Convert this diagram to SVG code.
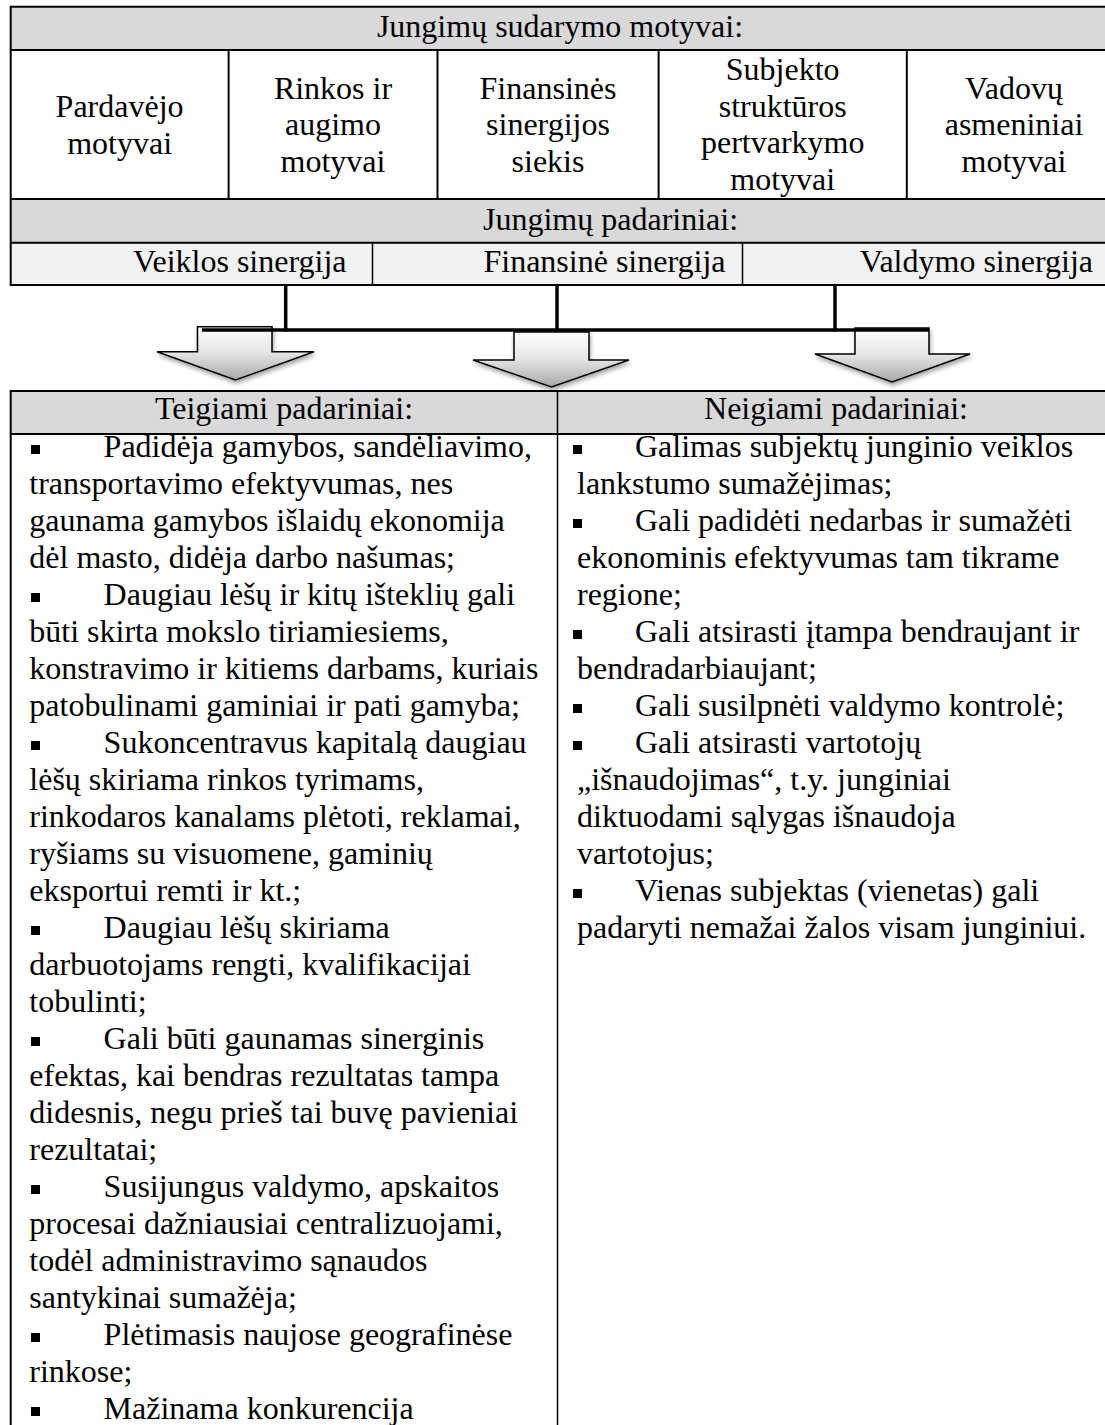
<svg xmlns="http://www.w3.org/2000/svg" width="1105" height="1425" viewBox="0 0 1105 1425">
  <style>
    text { font-family: "Liberation Serif", "Times New Roman", serif; font-size: 32px; fill: #000; }
    .c { text-anchor: middle; }
    .e { text-anchor: end; }
    .hdr { fill: #d9d9d9; }
    .sub { fill: #f2f2f2; }
    .b2 { stroke: #000; stroke-width: 2; fill: none; }
    .b1 { stroke: #000; stroke-width: 1.5; fill: none; }
    .conn { stroke: #000; stroke-width: 3.5; fill: none; }
    .arrow { fill: url(#arrowFill); stroke: #000; stroke-width: 1.5; stroke-linejoin: miter; filter: url(#soft); }
  </style>
  <defs>
    <linearGradient id="arrowFill" x1="0" y1="0" x2="0" y2="1">
      <stop offset="0" stop-color="#ffffff"/>
      <stop offset="0.5" stop-color="#e4e4e4"/>
      <stop offset="1" stop-color="#a8a8a8"/>
    </linearGradient>
    <filter id="soft" x="-20%" y="-20%" width="140%" height="160%">
      <feDropShadow dx="1" dy="3" stdDeviation="2" flood-color="#000" flood-opacity="0.35"/>
    </filter>
    <rect id="bullet" width="9" height="9" fill="#000"/>
  </defs>

  <rect width="1105" height="1425" fill="#fff"/>

  <!-- motives table -->
  <g id="motives-header">
    <rect class="hdr" x="10.7" y="6.7" width="1110" height="43.3"/>
    <text class="c" x="560" y="37">Jungimų sudarymo motyvai:</text>
  </g>
  <g id="motive-seller">
    <text class="c" x="119.6" y="117">Pardavėjo</text>
    <text class="c" x="119.6" y="153.5">motyvai</text>
  </g>
  <g id="motive-market">
    <text class="c" x="333" y="98.5">Rinkos ir</text>
    <text class="c" x="333" y="135">augimo</text>
    <text class="c" x="333" y="171.5">motyvai</text>
  </g>
  <g id="motive-financial">
    <text class="c" x="548" y="98.5">Finansinės</text>
    <text class="c" x="548" y="135">sinergijos</text>
    <text class="c" x="548" y="171.5">siekis</text>
  </g>
  <g id="motive-restructuring">
    <text class="c" x="782.7" y="80">Subjekto</text>
    <text class="c" x="782.7" y="116.5">struktūros</text>
    <text class="c" x="782.7" y="153">pertvarkymo</text>
    <text class="c" x="782.7" y="189.5">motyvai</text>
  </g>
  <g id="motive-managers">
    <text class="c" x="1014" y="98.5">Vadovų</text>
    <text class="c" x="1014" y="135">asmeniniai</text>
    <text class="c" x="1014" y="171.5">motyvai</text>
  </g>

  <!-- consequences rows -->
  <g id="consequences-header">
    <rect class="hdr" x="10.7" y="199" width="1110" height="43.7"/>
    <text x="483" y="230">Jungimų padariniai:</text>
  </g>
  <g id="synergy-operating">
    <rect class="sub" x="10.7" y="242.7" width="361.8" height="42.3"/>
    <text class="e" x="346.5" y="272">Veiklos sinergija</text>
  </g>
  <g id="synergy-financial">
    <rect class="sub" x="372.5" y="242.7" width="370" height="42.3"/>
    <text class="e" x="725.5" y="272">Finansinė sinergija</text>
  </g>
  <g id="synergy-management">
    <rect class="sub" x="742.5" y="242.7" width="378" height="42.3"/>
    <text class="e" x="1093" y="272">Valdymo sinergija</text>
  </g>

  <!-- top table grid -->
  <g id="top-grid">
    <line class="b2" x1="10.7" y1="6.7" x2="1105" y2="6.7"/>
    <line class="b2" x1="10.7" y1="50" x2="1105" y2="50"/>
    <line class="b2" x1="10.7" y1="199" x2="1105" y2="199"/>
    <line class="b2" x1="10.7" y1="242.7" x2="1105" y2="242.7"/>
    <line class="b2" x1="10.7" y1="285" x2="1105" y2="285"/>
    <line class="b2" x1="10.7" y1="5.7" x2="10.7" y2="286"/>
    <line class="b2" x1="228.6" y1="50" x2="228.6" y2="199"/>
    <line class="b2" x1="437.5" y1="50" x2="437.5" y2="199"/>
    <line class="b2" x1="658.6" y1="50" x2="658.6" y2="199"/>
    <line class="b2" x1="906.8" y1="50" x2="906.8" y2="199"/>
    <line class="b1" x1="372.5" y1="242.7" x2="372.5" y2="285"/>
    <line class="b1" x1="742.5" y1="242.7" x2="742.5" y2="285"/>
  </g>

  <!-- block arrows -->
  <g id="arrow-left">
    <path class="arrow" d="M197.5,326.7 H272 V351.7 H314 L235.5,380 L157,351.7 H197.5 Z"/>
  </g>
  <g id="arrow-middle">
    <path class="arrow" d="M514,332 H589 V360 H629 L551.5,387 L473,360 H514 Z"/>
  </g>
  <g id="arrow-right">
    <path class="arrow" d="M855,328 H929 V354 H970 L892,382 L815,354 H855 Z"/>
  </g>

  <!-- connectors -->
  <g id="connectors">
    <line class="conn" x1="285.7" y1="285" x2="285.7" y2="331.5"/>
    <line class="conn" x1="557" y1="285" x2="557" y2="331.5"/>
    <line class="conn" x1="835" y1="285" x2="835" y2="331.5"/>
    <line class="conn" x1="202" y1="330" x2="929" y2="330"/>
  </g>

  <!-- effects table headers -->
  <g id="positive-header">
    <rect class="hdr" x="10.7" y="391" width="546.8" height="43"/>
    <text class="c" x="284" y="419.3">Teigiami padariniai:</text>
  </g>
  <g id="negative-header">
    <rect class="hdr" x="557.5" y="391" width="560" height="43"/>
    <text class="c" x="836" y="419.3">Neigiami padariniai:</text>
  </g>
  <g id="bottom-grid">
    <line class="b2" x1="10.7" y1="391" x2="1105" y2="391"/>
    <line class="b2" x1="10.7" y1="434" x2="1105" y2="434"/>
    <line class="b2" x1="10.7" y1="390" x2="10.7" y2="1425"/>
    <line class="b1" x1="557.5" y1="391" x2="557.5" y2="1425"/>
  </g>

  <!-- positive effects list -->
  <g id="positive-list">
    <use href="#bullet" x="31" y="445"/>
    <text x="103.6" y="457">Padidėja gamybos, sandėliavimo,</text>
    <text x="29.3" y="494">transportavimo efektyvumas, nes</text>
    <text x="29.3" y="531">gaunama gamybos išlaidų ekonomija</text>
    <text x="29.3" y="568">dėl masto, didėja darbo našumas;</text>
    <use href="#bullet" x="31" y="593"/>
    <text x="103.6" y="605">Daugiau lėšų ir kitų išteklių gali</text>
    <text x="29.3" y="642">būti skirta mokslo tiriamiesiems,</text>
    <text x="29.3" y="679">konstravimo ir kitiems darbams, kuriais</text>
    <text x="29.3" y="716">patobulinami gaminiai ir pati gamyba;</text>
    <use href="#bullet" x="31" y="741"/>
    <text x="103.6" y="753">Sukoncentravus kapitalą daugiau</text>
    <text x="29.3" y="790">lėšų skiriama rinkos tyrimams,</text>
    <text x="29.3" y="827">rinkodaros kanalams plėtoti, reklamai,</text>
    <text x="29.3" y="864">ryšiams su visuomene, gaminių</text>
    <text x="29.3" y="901">eksportui remti ir kt.;</text>
    <use href="#bullet" x="31" y="926"/>
    <text x="103.6" y="938">Daugiau lėšų skiriama</text>
    <text x="29.3" y="975">darbuotojams rengti, kvalifikacijai</text>
    <text x="29.3" y="1012">tobulinti;</text>
    <use href="#bullet" x="31" y="1037"/>
    <text x="103.6" y="1049">Gali būti gaunamas sinerginis</text>
    <text x="29.3" y="1086">efektas, kai bendras rezultatas tampa</text>
    <text x="29.3" y="1123">didesnis, negu prieš tai buvę pavieniai</text>
    <text x="29.3" y="1160">rezultatai;</text>
    <use href="#bullet" x="31" y="1185"/>
    <text x="103.6" y="1197">Susijungus valdymo, apskaitos</text>
    <text x="29.3" y="1234">procesai dažniausiai centralizuojami,</text>
    <text x="29.3" y="1271">todėl administravimo sąnaudos</text>
    <text x="29.3" y="1308">santykinai sumažėja;</text>
    <use href="#bullet" x="31" y="1333"/>
    <text x="103.6" y="1345">Plėtimasis naujose geografinėse</text>
    <text x="29.3" y="1382">rinkose;</text>
    <use href="#bullet" x="31" y="1407"/>
    <text x="103.6" y="1419">Mažinama konkurencija</text>
  </g>

  <!-- negative effects list -->
  <g id="negative-list">
    <use href="#bullet" x="573" y="445"/>
    <text x="635" y="457">Galimas subjektų junginio veiklos</text>
    <text x="577" y="494">lankstumo sumažėjimas;</text>
    <use href="#bullet" x="573" y="519"/>
    <text x="635" y="531">Gali padidėti nedarbas ir sumažėti</text>
    <text x="577" y="568">ekonominis efektyvumas tam tikrame</text>
    <text x="577" y="605">regione;</text>
    <use href="#bullet" x="573" y="630"/>
    <text x="635" y="642">Gali atsirasti įtampa bendraujant ir</text>
    <text x="577" y="679">bendradarbiaujant;</text>
    <use href="#bullet" x="573" y="704"/>
    <text x="635" y="716">Gali susilpnėti valdymo kontrolė;</text>
    <use href="#bullet" x="573" y="741"/>
    <text x="635" y="753">Gali atsirasti vartotojų</text>
    <text x="577" y="790">„išnaudojimas“, t.y. junginiai</text>
    <text x="577" y="827">diktuodami sąlygas išnaudoja</text>
    <text x="577" y="864">vartotojus;</text>
    <use href="#bullet" x="573" y="889"/>
    <text x="635" y="901">Vienas subjektas (vienetas) gali</text>
    <text x="577" y="938">padaryti nemažai žalos visam junginiui.</text>
  </g>
</svg>
